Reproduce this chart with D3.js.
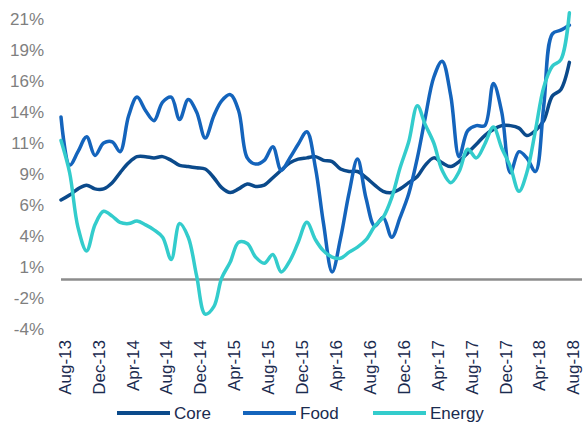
<!DOCTYPE html>
<html>
<head>
<meta charset="utf-8">
<script src="https://cdn.jsdelivr.net/npm/d3@7"></script>
<style>
  body { margin: 0; background: #fff; }
  text { font-family: "Liberation Sans", Arial, sans-serif; }
</style>
</head>
<body>
<div id="chart"></div>
<script>
// chart size
const width = 585;
const height = 425;

// monthly series, Aug-13 .. Aug-18 (% y/y)
const months = d3.timeMonth.range(new Date(2013, 7, 1), new Date(2018, 8, 2));

const core = [6.4, 6.8, 7.3, 7.6, 7.3, 7.3, 7.8, 8.6, 9.4, 9.9,
    9.9, 9.8, 9.9, 9.6, 9.2, 9.1, 9.0, 8.9, 8.2, 7.4,
    7.0, 7.3, 7.7, 7.5, 7.6, 8.2, 8.8, 9.4, 9.7, 9.8,
    9.9, 9.6, 9.5, 8.9, 8.7, 8.7, 8.2, 7.6, 7.1, 7.0,
    7.3, 7.8, 8.3, 9.2, 9.8, 9.4, 9.1, 9.5, 10.2, 10.9,
    11.6, 12.1, 12.4, 12.4, 12.2, 11.6, 12.0, 12.8, 14.8, 15.3,
    17.5];

const food = [13.1, 9.2, 10.3, 11.5, 10.0, 11.0, 11.1, 10.3, 13.2, 14.7,
    13.6, 12.8, 14.3, 14.7, 12.9, 14.5, 13.5, 11.4, 13.2, 14.4,
    14.9, 13.6, 9.8, 9.3, 9.6, 10.7, 8.8, 9.8, 10.9, 11.9,
    9.0, 4.5, 0.6, 3.3, 7.0, 9.7, 6.5, 4.3, 5.0, 3.4,
    5.0, 6.9, 9.8, 13.0, 16.3, 17.6, 14.8, 9.9, 12.0, 12.4,
    12.4, 15.8, 13.5, 8.6, 10.3, 9.8, 8.7, 14.0, 19.8, 20.1,
    20.5];

const energy = [11.2, 8.6, 4.2, 2.3, 4.4, 5.5, 5.1, 4.6, 4.5, 4.7,
    4.4, 4.0, 3.4, 1.6, 4.5, 3.4, 0.3, -2.8, -2.2, 0.1,
    1.4, 3.0, 2.9, 1.8, 1.3, 2.0, 0.6, 1.5, 3.0, 4.6,
    3.2, 2.3, 1.8, 1.7, 2.2, 2.6, 3.2, 4.3, 5.0, 6.6,
    9.0, 11.1, 14.0, 12.5, 11.0, 8.8, 7.8, 8.7, 10.5, 9.8,
    10.9, 12.3, 10.6, 9.1, 7.1, 8.6, 12.0, 15.5, 17.2, 17.7,
    21.5];

const seriesNames = ['Core', 'Food', 'Energy'];
const seriesColors = ['#0b4a8b', '#1464bc', '#33cccc'];
const seriesValues = [core, food, energy];

const yTicks = d3.range(-4, 21.01, 2.5);

const svg = d3.select('#chart')
    .append('svg')
    .attr('width', width)
    .attr('height', height);

const x = d3.scaleTime()
    .domain([months[0], months[months.length - 1]])
    .range([61, 578]);

const y = d3.scaleLinear()
    .domain([-4, 21])
    .range([329, 19]);

// Excel style rounding of tick labels (half away from zero)
const fmt = v => (v < 0 ? '-' : '') + Math.round(Math.abs(v)) + '%';

// y axis labels
svg.append('g')
    .attr('transform', 'translate(44,0)')
    .call(d3.axisLeft(y).tickValues(yTicks).tickFormat(fmt).tickSize(0).tickPadding(0))
    .call(g => g.select('.domain').remove())
    .selectAll('text')
    .attr('fill', '#7f7f7f')
    .style('font-size', '17px');

// x axis labels, every 4 months
const xTicks = months.filter((d, i) => i % 4 === 0);
svg.append('g')
    .attr('transform', 'translate(0,340)')
    .call(d3.axisBottom(x).tickValues(xTicks).tickFormat(d3.timeFormat('%b-%y')).tickSize(0).tickPadding(0))
    .call(g => g.select('.domain').remove())
    .selectAll('text')
    .attr('fill', '#1b2b4f')
    .style('font-size', '17px')
    .attr('text-anchor', 'end')
    .attr('transform', 'rotate(-90)')
    .attr('x', 0)
    .attr('y', 0)
    .attr('dy', '0.55em');

// zero line
svg.append('line')
    .attr('x1', 61)
    .attr('x2', 582)
    .attr('y1', y(0))
    .attr('y2', y(0))
    .attr('stroke', '#8c8c8c')
    .attr('stroke-width', 2.5);

const line = d3.line()
    .x((d, i) => x(months[i]))
    .y(d => y(d))
    .curve(d3.curveCatmullRom.alpha(0.5));

seriesValues.forEach((vals, k) => {
    svg.append('path')
        .datum(vals)
        .attr('d', line)
        .attr('fill', 'none')
        .attr('stroke', seriesColors[k])
        .attr('stroke-width', 3.5)
        .attr('stroke-linejoin', 'round')
        .attr('stroke-linecap', 'round');
});

// legend
const legendX = [117, 243, 373];
const legend = svg.append('g').attr('class', 'legend');
seriesNames.forEach((name, k) => {
    const g = legend.append('g').attr('transform', `translate(${legendX[k]},413)`);
    g.append('line')
        .attr('x1', 0)
        .attr('x2', 53)
        .attr('stroke', seriesColors[k])
        .attr('stroke-width', 4);
    g.append('text')
        .attr('x', 57)
        .attr('dy', '0.35em')
        .attr('fill', '#1b2b4f')
        .style('font-size', '17px')
        .text(name);
});
</script>
</body>
</html>
